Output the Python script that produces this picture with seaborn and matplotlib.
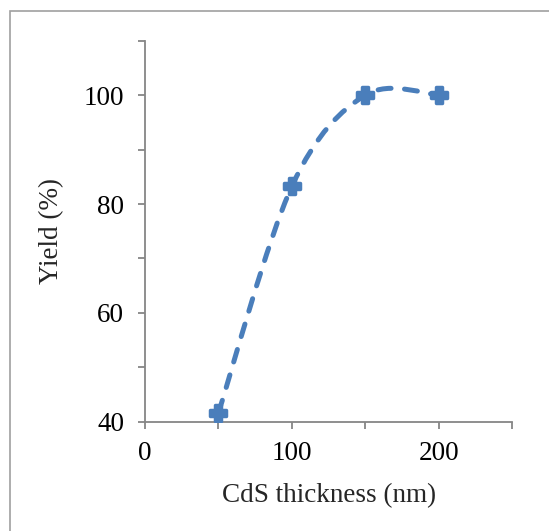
import matplotlib
matplotlib.use("Agg")
import matplotlib.pyplot as plt
import seaborn as sns
import pandas as pd
import numpy as np
from matplotlib.path import Path
from matplotlib.patches import PathPatch, Rectangle

# datos
thickness = [50, 100, 150, 200]
yield_pct = [41.7, 83.3, 100.0, 100.0]

x_ticks = [0, 100, 200]
x_minor = [50, 150, 250]
y_ticks = [40, 60, 80, 100]
y_minor = [50, 70, 90, 110]

BLUE = "#4a7ebb"
GRAY = "#868686"

sns.set_style("white")
plt.rcParams['font.family'] = ['Liberation Serif', 'DejaVu Serif']


def smooth_path(xs, ys):
    # curva suavizada tipo Excel (bezier con tangentes catmull-rom)
    pts = np.column_stack([xs, ys]).astype(float)
    n = len(pts)
    verts = [pts[0]]
    codes = [Path.MOVETO]
    for i in range(n - 1):
        p_prev = pts[i - 1] if i > 0 else pts[i]
        p_next = pts[i + 2] if i + 2 < n else pts[i + 1]
        c1 = pts[i] + (pts[i + 1] - p_prev) / 6.0
        c2 = pts[i + 1] - (p_next - pts[i]) / 6.0
        verts += [c1, c2, pts[i + 1]]
        codes += [Path.CURVE4] * 3
    return Path(verts, codes)


df = pd.DataFrame({"thickness": thickness, "yield": yield_pct})

fig = plt.figure(figsize=(5.49, 5.31), dpi=100)
ax = fig.add_axes([0.2641, 0.2053, 0.6694, 0.7184])

patch = PathPatch(smooth_path(df["thickness"], df["yield"]), facecolor="none",
                  edgecolor=BLUE, lw=3.6, linestyle=(0, (2.6, 2.7)),
                  capstyle="round")
ax.add_patch(patch)

sns.scatterplot(data=df, x="thickness", y="yield", marker="P", s=120,
                color=BLUE, edgecolor=BLUE, linewidth=2.5, ax=ax, zorder=3)

ax.set_xlim(0, 250)
ax.set_ylim(40, 110)
ax.set_xticks(x_ticks)
ax.set_xticks(x_minor, minor=True)
ax.set_yticks(y_ticks)
ax.set_yticks(y_minor, minor=True)

for s in ["top", "right"]:
    ax.spines[s].set_visible(False)
for s in ["left", "bottom"]:
    ax.spines[s].set_color(GRAY)
    ax.spines[s].set_linewidth(1.3)

ax.tick_params(which="both", direction="out", length=5, width=1.3, color=GRAY,
               labelsize=19.5, labelcolor="black", bottom=True, left=True)
ax.tick_params(axis="y", pad=10)
ax.tick_params(axis="x", pad=9)

ax.set_xlabel("CdS thickness (nm)", fontsize=19.5, labelpad=12)
ax.set_ylabel("Yield (%)", fontsize=19.5, labelpad=14)

# marco del grafico
fig.patches.append(Rectangle((10 / 549, -0.01), 1.0, 1 - 11 / 531 + 0.01,
                             transform=fig.transFigure, fill=False,
                             edgecolor="#a0a0a0", lw=1.2))

fig.savefig("out.png", dpi=100)
plt.close()
